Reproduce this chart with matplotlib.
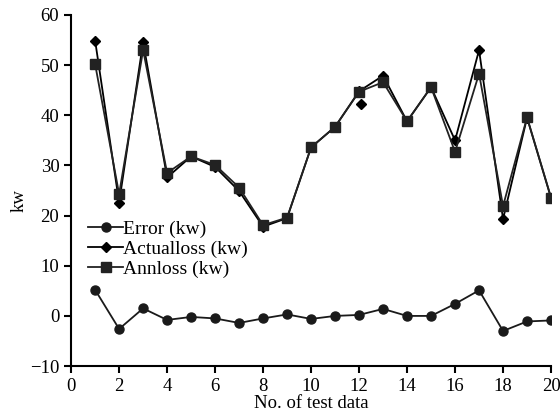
import matplotlib
matplotlib.use("Agg")
import matplotlib.pyplot as plt

test_no = list(range(1, 21))
error_kw = [5.2, -2.6, 1.5, -0.8, -0.2, -0.5, -1.4, -0.5, 0.3, -0.6,
            0.0, 0.2, 1.4, 0.0, 0.0, 2.4, 5.1, -3.0, -1.1, -0.9]
actual_kw = [54.9, 22.6, 54.6, 27.6, 31.8, 29.7, 24.9, 17.8, 19.5, 33.6,
             37.7, 44.8, 47.9, 38.8, 45.6, 35.0, 53.0, 19.3, 39.5, 23.5]
ann_kw = [50.2, 24.3, 53.0, 28.5, 31.8, 30.1, 25.6, 18.1, 19.6, 33.6,
          37.7, 44.7, 46.6, 38.8, 45.6, 32.7, 48.3, 21.9, 39.6, 23.6]
# stray actual-loss marker slightly off test 12
stray_x = [12.1]
stray_y = [42.2]

plt.rcParams["font.family"] = ["Liberation Serif", "DejaVu Serif"]

fig = plt.figure(figsize=(5.6, 4.16), dpi=100)
ax = fig.add_axes([0.127, 0.12, 0.857, 0.844])

ax.plot(test_no, error_kw, "o-", color="#1a1a1a", lw=1.3, ms=6.5,
        label="Error (kw)")
ax.plot(test_no, actual_kw, "D-", color="#000000", lw=1.3, ms=5.5,
        label="Actualloss (kw)")
ax.plot(test_no, ann_kw, "s-", color="#222222", lw=1.3, ms=7.5,
        label="Annloss (kw)")
ax.plot(stray_x, stray_y, "D", color="#000000", ms=5.5)

ax.set_xlim(0, 20)
ax.set_ylim(-10, 60)
ax.set_xticks(range(0, 21, 2))
ax.set_yticks(range(-10, 61, 10))
ax.spines["top"].set_visible(False)
ax.spines["right"].set_visible(False)
ax.spines["left"].set_linewidth(1.5)
ax.spines["bottom"].set_linewidth(1.5)
ax.tick_params(direction="out", width=1.5, length=5, labelsize=13.5)
ax.set_xlabel("No. of test data", fontsize=13.5, labelpad=0)
ax.set_ylabel("kw", fontsize=13.5, labelpad=0)
ax.yaxis.set_label_coords(-0.09, 0.47)

ax.legend(loc="upper left", bbox_to_anchor=(0.02, 0.438), frameon=False,
          fontsize=14, handlelength=1.8, handletextpad=0.0,
          labelspacing=0.12, borderaxespad=0.0)

fig.savefig("out.png", dpi=100)
